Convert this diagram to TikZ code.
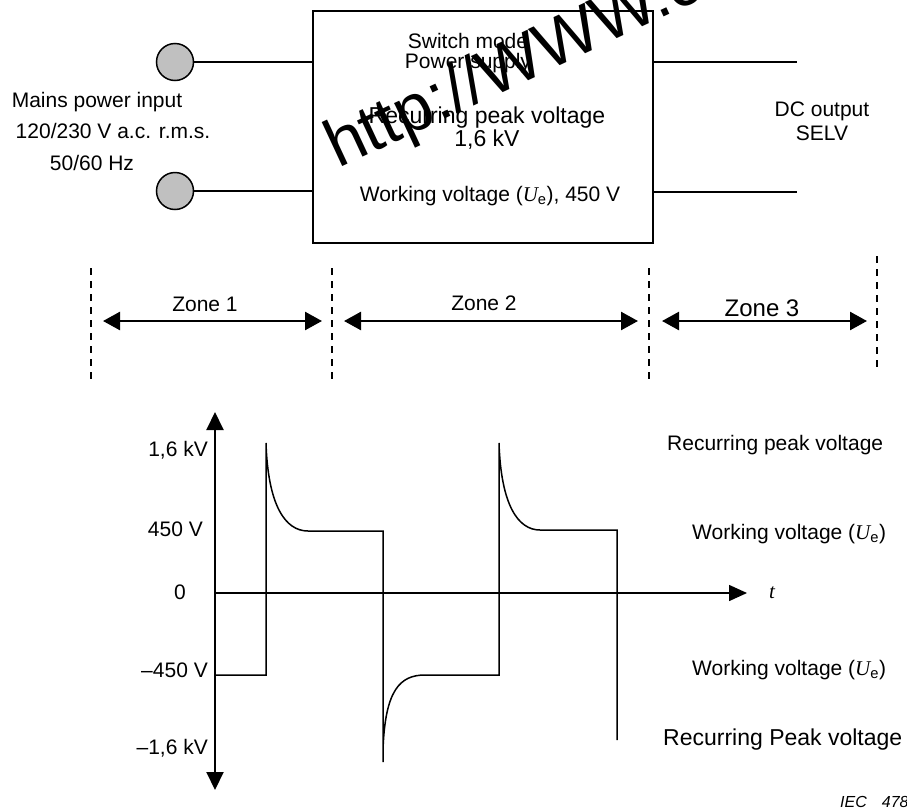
\documentclass[tikz,border=0pt]{standalone}
\usepackage{fontspec}
\setmainfont{Liberation Sans}
\newfontfamily\timesfont{Liberation Serif}
\usepackage{xcolor}
\usetikzlibrary{arrows.meta,positioning,calc}
\definecolor{termgray}{HTML}{C0C0C0}
\newcommand{\Ue}{({\timesfont\itshape U}\textsubscript{e})}

\begin{document}
\begin{tikzpicture}[
    x=1pt, y=-1pt,
    font=\fontsize{21}{24}\selectfont,
    lbl/.style={inner sep=0pt},
    wire/.style={line width=1.5pt},
    terminal/.style={circle, draw, line width=1.5pt, fill=termgray,
                     minimum size=37pt, inner sep=0pt},
    box/.style={draw, line width=2pt, minimum width=340pt,
                minimum height=232pt, inner sep=0pt},
    zonesep/.style={line width=2pt, dash pattern=on 7pt off 6pt},
    zonearr/.style={{Triangle[length=17pt,width=18pt]}-{Triangle[length=17pt,width=18pt]},
                    line width=2.5pt},
    axis/.style={line width=2pt},
    wave/.style={line width=1.5pt},
    bigtxt/.style={lbl, font=\fontsize{23}{23}\selectfont},
  ]
  \useasboundingbox (0,0) rectangle (907,809);
  \clip (0,0) rectangle (907,809);

  % power supply block
  \node[box] (smps) at (483,127) {};
  \node[lbl, align=center, font=\fontsize{21}{20}\selectfont] (mode) at (468,53) {Switch mode\\Power supply};
  \node[lbl, align=center, font=\fontsize{23}{23}\selectfont] (peakin) at (487,128) {Recurring peak voltage\\1,6 kV};
  \node[lbl] (workin) at (490,196) {Working voltage \Ue, 450 V};

  \node[terminal] (in1) at (175,62) {};
  \node[terminal] (in2) at (175,191) {};
  \draw[wire] (in1) -- (smps.west |- in1);
  \draw[wire] (in2) -- (smps.west |- in2);
  \coordinate (out1) at (797,62);
  \coordinate (out2) at (797,192);
  \draw[wire] (smps.east |- out1) -- (out1);
  \draw[wire] (smps.east |- out2) -- (out2);

  \node[lbl] (mains) at (97,102) {Mains power input};
  \node[lbl] (mainsv) at (113,131) {120/230 V a.c. r.m.s.};
  \node[lbl] (mainsf) at (92,163) {50/60 Hz};
  \node[lbl, align=center] (dcout) at (822,121) {DC output\\SELV};

  % zones
  \foreach \x/\t/\b [count=\i] in {91/268/382, 332/268/382, 649/268/382, 877/256/368} {
    \coordinate (sep\i top) at (\x,\t);
    \coordinate (sep\i bot) at (\x,\b);
    \draw[zonesep] (sep\i top) -- (sep\i bot);
  }
  \coordinate (z1a) at (103,321);
  \coordinate (z1b) at (322,321);
  \coordinate (z2a) at (344,321);
  \coordinate (z2b) at (638,321);
  \coordinate (z3a) at (662,321);
  \coordinate (z3b) at (867,321);
  \draw[zonearr] (z1a) -- (z1b);
  \draw[zonearr] (z2a) -- (z2b);
  \draw[zonearr] (z3a) -- (z3b);
  \node[lbl] (zone1) at (205,304) {Zone 1};
  \node[lbl] (zone2) at (484,303) {Zone 2};
  \node[lbl, font=\fontsize{24}{24}\selectfont] (zone3) at (762,308) {Zone 3};

  % voltage waveform
  \coordinate (origin) at (215,593);
  \coordinate (ytop) at (215,412);
  \coordinate (ybot) at (215,790);
  \coordinate (tend) at (747,593);
  \draw[axis, {Triangle[length=18pt,width=17pt]}-{Triangle[length=18pt,width=17pt]}] (ybot) -- (ytop);
  \draw[wave, -{Triangle[length=18pt,width=16pt]}] (origin) -- (tend);
  \draw[wave] (215,675) -- (266,675) -- (266,443)
        .. controls (268,505) and (285,531) .. (308,531) -- (383,531) -- (383,762)
        (383,750) .. controls (385,690) and (400,675) .. (425,675) -- (499,675) -- (499,443)
        .. controls (501,505) and (518,530) .. (540,530) -- (617,530) -- (617,740);
  \node[lbl] (tlbl) at (772,593) {\timesfont\itshape t};

  \node[lbl, anchor=east] (v16) at (208,450) {1,6 kV};
  \node[lbl, anchor=east] (v450) at (203,529) {450 V};
  \node[lbl] (vzero) at (180,592) {0};
  \node[lbl, anchor=east] (vn450) at (208,670) {–450 V};
  \node[lbl, anchor=east] (vn16) at (208,748) {–1,6 kV};

  \node[lbl, anchor=west] (lpeak) at (667,445) {Recurring peak voltage};
  \node[lbl, anchor=west] (lwork) at (692,534) {Working voltage \Ue};
  \node[lbl, anchor=west] (lnwork) at (692,670) {Working voltage \Ue};
  \node[bigtxt, anchor=west] (lnpeak) at (663,740) {Recurring Peak voltage};
  \node[lbl, anchor=west, font=\fontsize{16}{16}\selectfont\itshape] (iec) at (840,802) {IEC\hspace{15pt}478};

  % watermark across the block
  \node[lbl, rotate=25, anchor=base west, font=\fontsize{67}{67}\selectfont] (wmark) at (338,169) {http://WWW.c};
\end{tikzpicture}
\end{document}
